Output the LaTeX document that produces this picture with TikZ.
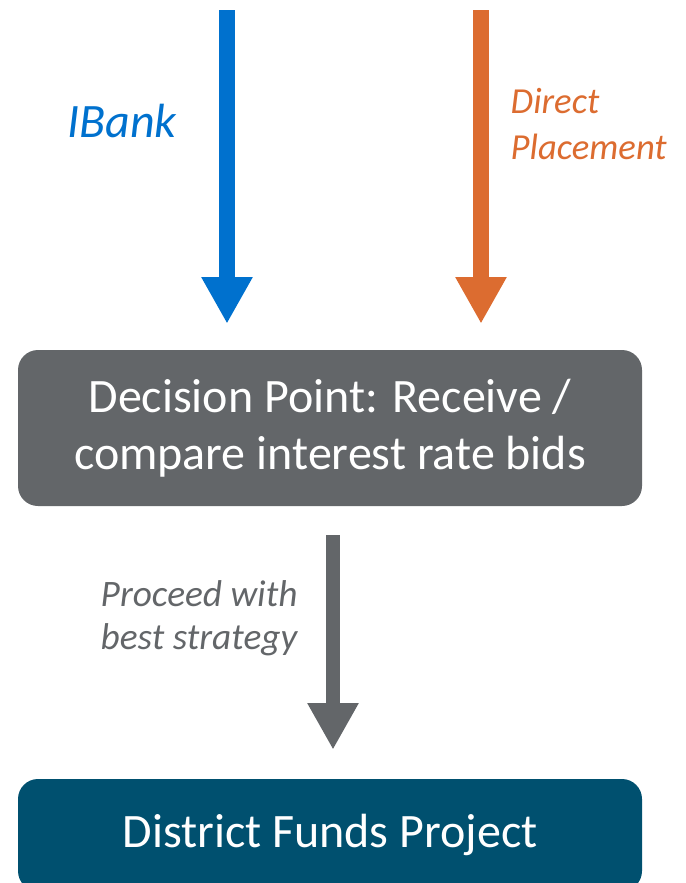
\documentclass[tikz,border=0pt]{standalone}
\usepackage{fontspec}
\setmainfont{Carlito}
\usepackage{tikz}
\usetikzlibrary{arrows.meta,positioning,calc}
\definecolor{ibankblue}{HTML}{0071CE}
\definecolor{directorange}{HTML}{DC6C30}
\definecolor{decgray}{HTML}{636669}
\definecolor{fundteal}{HTML}{00506F}

\tikzset{
  bigarrow/.style={line width=12pt, -{Triangle[width=36pt,length=35pt]}},
  stepbox/.style={rounded corners=15pt, text=white, minimum width=468pt, align=center}
}

\begin{document}
\begin{tikzpicture}[x=0.75pt, y=-0.75pt]
\useasboundingbox (0,0) rectangle (686,883);
\clip (0,0) rectangle (686,883);
% boxes
\node[stepbox, fill=decgray, minimum height=117pt,
      font=\fontsize{36}{43}\selectfont] (dec) at (330,428)
      {Decision Point: Receive /\\compare interest rate bids};
\node[stepbox, fill=fundteal, minimum height=84pt,
      font=\fontsize{36}{40}\selectfont] (fund) at (330,835)
      {District Funds Project};
% incoming arrows
\coordinate (ibtop) at (227,10);
\coordinate (dptop) at (481,10);
\draw[bigarrow, ibankblue, shorten >=19.5pt] (ibtop) -- (ibtop |- dec.north);
\draw[bigarrow, directorange, shorten >=19.5pt] (dptop) -- (dptop |- dec.north);
\node[ibankblue, font=\fontsize{36}{40}\selectfont\itshape] (iblabel) at (122,121) {IBank};
\node[directorange, anchor=west, align=left, font=\fontsize{27.5}{34}\selectfont\itshape]
  (dplabel) at (506,124) {Direct\\Placement};
% outgoing arrow
\draw[bigarrow, decgray, line width=11pt, shorten <=21.75pt, shorten >=21.75pt]
  (dec.south -| 333,0) -- (fund.north -| 333,0);
\node[decgray, anchor=west, align=left, font=\fontsize{28}{32}\selectfont\itshape]
  (proclabel) at (96,618) {Proceed with\\best strategy};
\end{tikzpicture}
\end{document}
